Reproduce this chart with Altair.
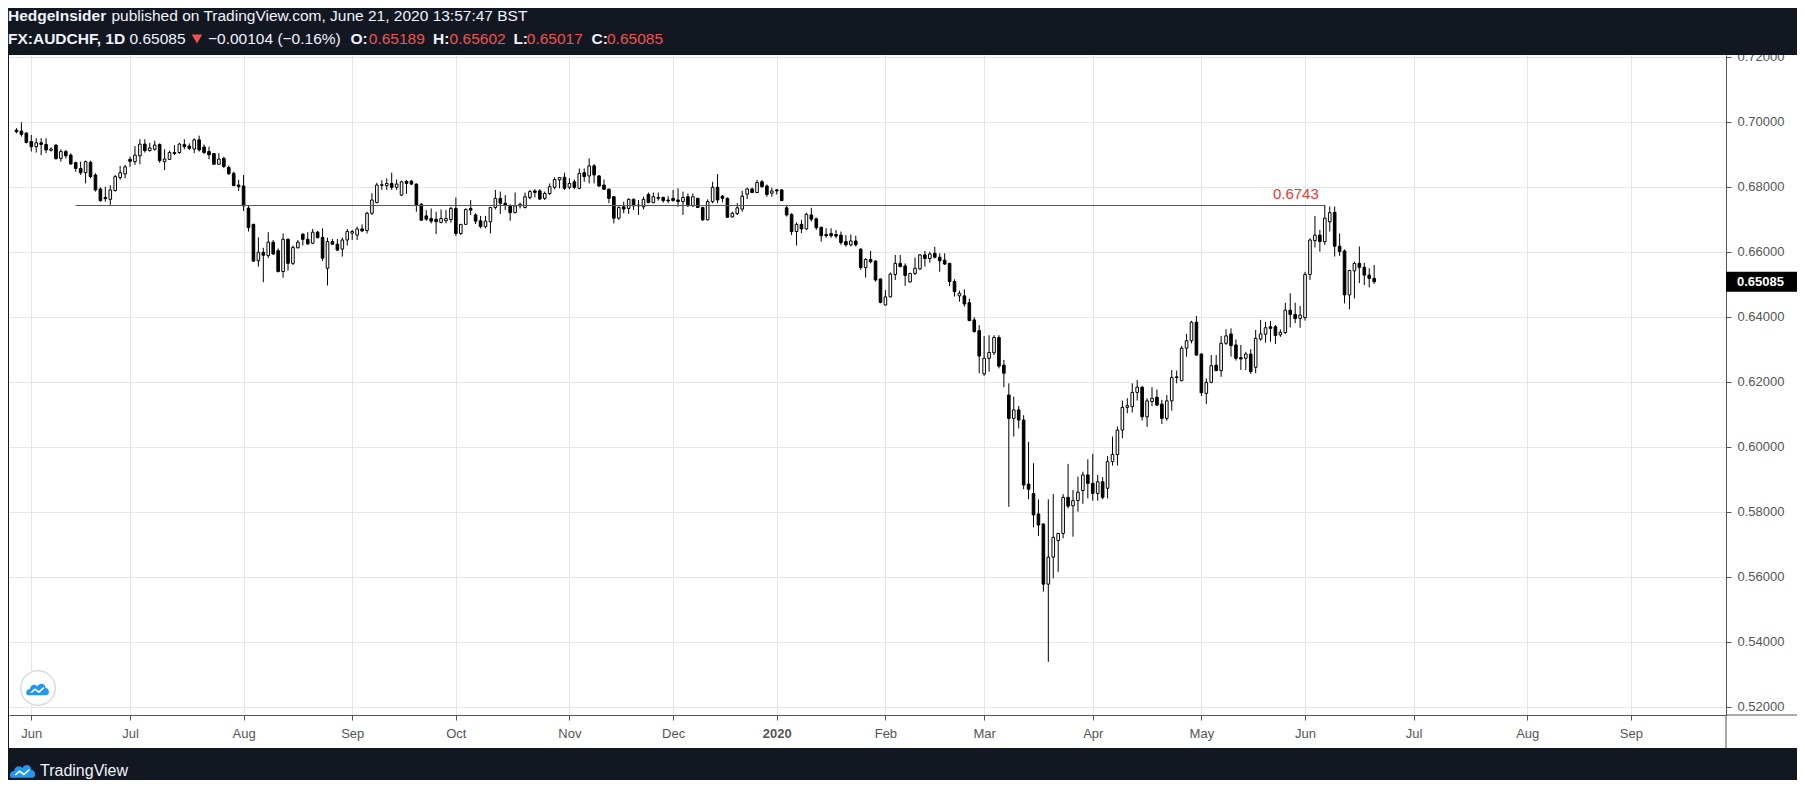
import altair as alt
import pandas as pd

# ---------------- data ----------------
opens = [
0.6975,0.6972,0.6966,0.6940,0.6924,0.6936,0.6931,0.6913,0.6929,0.6888,
0.6909,0.6898,0.6875,0.6857,0.6844,0.6876,0.6837,0.6794,0.6768,0.6762,
0.6789,0.6829,0.6840,0.6885,0.6878,0.6896,0.6932,0.6912,0.6916,0.6931,
0.6878,0.6885,0.6906,0.6906,0.6931,0.6926,0.6917,0.6945,0.6923,0.6909,
0.6903,0.6870,0.6888,0.6860,0.6842,0.6806,0.6803,0.6735,0.6685,0.6573,
0.6599,0.6589,0.6630,0.6604,0.6540,0.6639,0.6565,0.6613,0.6655,0.6639,
0.6627,0.6661,0.6645,0.6550,0.6632,0.6624,0.6609,0.6637,0.6658,0.6652,
0.6671,0.6666,0.6719,0.6752,0.6805,0.6804,0.6811,0.6799,0.6775,0.6817,
0.6818,0.6809,0.6747,0.6711,0.6703,0.6701,0.6691,0.6696,0.6700,0.6734,
0.6657,0.6685,0.6734,0.6714,0.6696,0.6678,0.6693,0.6737,0.6765,0.6750,
0.6743,0.6721,0.6742,0.6737,0.6768,0.6788,0.6788,0.6765,0.6780,0.6799,
0.6822,0.6830,0.6799,0.6816,0.6796,0.6844,0.6834,0.6865,0.6834,0.6806,
0.6793,0.6770,0.6704,0.6739,0.6734,0.6762,0.6744,0.6739,0.6777,0.6752,
0.6765,0.6768,0.6760,0.6765,0.6760,0.6755,0.6770,0.6742,0.6765,0.6737,
0.6699,0.6755,0.6799,0.6772,0.6765,0.6708,0.6718,0.6732,0.6778,0.6794,
0.6783,0.6816,0.6803,0.6781,0.6791,0.6791,0.6736,0.6716,0.6663,0.6685,
0.6671,0.6714,0.6702,0.6676,0.6654,0.6657,0.6654,0.6652,0.6632,0.6622,
0.6634,0.6609,0.6552,0.6577,0.6572,0.6517,0.6437,0.6462,0.6531,0.6565,
0.6557,0.6508,0.6534,0.6548,0.6591,0.6580,0.6596,0.6584,0.6575,0.6565,
0.6509,0.6465,0.6465,0.6444,0.6391,0.6358,0.6225,0.6273,0.6290,0.6337,
0.6252,0.6160,0.6088,0.6114,0.6083,0.5886,0.5857,0.5794,0.5763,0.5578,
0.5661,0.5712,0.5734,0.5845,0.5819,0.5835,0.5866,0.5914,0.5888,0.5857,
0.5893,0.5873,0.5955,0.5977,0.6052,0.6122,0.6124,0.6168,0.6184,0.6093,
0.6140,0.6153,0.6132,0.6088,0.6142,0.6214,0.6204,0.6304,0.6327,0.6384,
0.6286,0.6165,0.6199,0.6252,0.6235,0.6319,0.6348,0.6314,0.6275,0.6273,
0.6286,0.6245,0.6332,0.6347,0.6370,0.6370,0.6345,0.6352,0.6421,0.6408,
0.6396,0.6398,0.6531,0.6635,0.6652,0.6632,0.6693,0.6722,0.6618,0.6603,
0.6468,0.6542,0.6565,0.6553,0.6529,0.65189]

highs = [
0.6981,0.6999,0.6968,0.6960,0.6950,0.6950,0.6950,0.6922,0.6931,0.6916,
0.6914,0.6904,0.6878,0.6878,0.6881,0.6881,0.6842,0.6799,0.6801,0.6805,
0.6837,0.6865,0.6868,0.6893,0.6926,0.6947,0.6947,0.6936,0.6943,0.6934,
0.6916,0.6912,0.6929,0.6936,0.6947,0.6934,0.6950,0.6958,0.6931,0.6924,
0.6904,0.6904,0.6893,0.6866,0.6847,0.6822,0.6837,0.6742,0.6687,0.6645,
0.6613,0.6661,0.6637,0.6611,0.6657,0.6642,0.6620,0.6637,0.6657,0.6661,
0.6671,0.6665,0.6673,0.6644,0.6640,0.6640,0.6644,0.6671,0.6668,0.6678,
0.6685,0.6724,0.6781,0.6813,0.6821,0.6827,0.6844,0.6823,0.6819,0.6822,
0.6822,0.6811,0.6750,0.6729,0.6734,0.6724,0.6731,0.6729,0.6739,0.6768,
0.6686,0.6734,0.6760,0.6719,0.6711,0.6711,0.6739,0.6791,0.6786,0.6775,
0.6747,0.6783,0.6752,0.6783,0.6791,0.6793,0.6793,0.6786,0.6811,0.6830,
0.6830,0.6844,0.6827,0.6823,0.6857,0.6857,0.6888,0.6871,0.6837,0.6823,
0.6796,0.6772,0.6741,0.6755,0.6765,0.6765,0.6760,0.6770,0.6783,0.6783,
0.6783,0.6770,0.6772,0.6791,0.6796,0.6786,0.6780,0.6780,0.6767,0.6739,
0.6762,0.6816,0.6840,0.6775,0.6768,0.6724,0.6750,0.6788,0.6798,0.6798,
0.6822,0.6822,0.6808,0.6798,0.6794,0.6793,0.6745,0.6719,0.6691,0.6699,
0.6721,0.6736,0.6706,0.6678,0.6673,0.6673,0.6668,0.6663,0.6652,0.6654,
0.6650,0.6611,0.6581,0.6603,0.6575,0.6519,0.6483,0.6537,0.6591,0.6591,
0.6565,0.6536,0.6583,0.6594,0.6603,0.6601,0.6616,0.6596,0.6596,0.6567,
0.6516,0.6481,0.6485,0.6457,0.6399,0.6375,0.6341,0.6344,0.6344,0.6344,
0.6268,0.6196,0.6155,0.6126,0.6098,0.6016,0.5950,0.5839,0.5765,0.5839,
0.5855,0.5736,0.5855,0.5948,0.5868,0.5909,0.5924,0.5962,0.5979,0.5914,
0.5907,0.5972,0.6032,0.6063,0.6143,0.6150,0.6196,0.6206,0.6188,0.6150,
0.6184,0.6177,0.6145,0.6160,0.6237,0.6235,0.6311,0.6348,0.6388,0.6403,
0.6288,0.6211,0.6283,0.6283,0.6342,0.6362,0.6365,0.6331,0.6314,0.6293,
0.6301,0.6360,0.6391,0.6385,0.6388,0.6375,0.6362,0.6444,0.6473,0.6444,
0.6434,0.6539,0.6642,0.6711,0.6668,0.6745,0.6740,0.6740,0.6657,0.6608,
0.6545,0.6570,0.6617,0.6567,0.6550,0.65602]

lows = [
0.6965,0.6955,0.6934,0.6909,0.6906,0.6898,0.6904,0.6909,0.6885,0.6878,
0.6888,0.6868,0.6847,0.6837,0.6811,0.6827,0.6786,0.6755,0.6755,0.6745,
0.6786,0.6822,0.6827,0.6862,0.6868,0.6870,0.6906,0.6909,0.6912,0.6875,
0.6852,0.6883,0.6898,0.6902,0.6916,0.6914,0.6904,0.6909,0.6901,0.6885,
0.6868,0.6868,0.6858,0.6837,0.6803,0.6788,0.6726,0.6663,0.6570,0.6555,
0.6507,0.6581,0.6591,0.6537,0.6521,0.6543,0.6560,0.6611,0.6620,0.6622,
0.6624,0.6642,0.6572,0.6497,0.6622,0.6603,0.6586,0.6620,0.6637,0.6637,
0.6661,0.6657,0.6714,0.6750,0.6791,0.6791,0.6791,0.6791,0.6772,0.6779,
0.6806,0.6724,0.6696,0.6696,0.6688,0.6655,0.6688,0.6688,0.6690,0.6649,
0.6652,0.6683,0.6714,0.6686,0.6673,0.6673,0.6657,0.6731,0.6717,0.6729,
0.6696,0.6719,0.6734,0.6734,0.6762,0.6768,0.6760,0.6760,0.6775,0.6793,
0.6796,0.6791,0.6793,0.6793,0.6793,0.6816,0.6811,0.6811,0.6801,0.6791,
0.6750,0.6688,0.6699,0.6719,0.6717,0.6729,0.6714,0.6731,0.6750,0.6750,
0.6758,0.6752,0.6750,0.6755,0.6739,0.6714,0.6739,0.6739,0.6735,0.6696,
0.6697,0.6750,0.6750,0.6753,0.6706,0.6706,0.6714,0.6724,0.6763,0.6781,
0.6781,0.6798,0.6770,0.6770,0.6777,0.6757,0.6709,0.6652,0.6620,0.6658,
0.6668,0.6694,0.6668,0.6632,0.6644,0.6644,0.6642,0.6622,0.6617,0.6617,
0.6617,0.6545,0.6521,0.6565,0.6509,0.6442,0.6435,0.6460,0.6514,0.6553,
0.6496,0.6506,0.6529,0.6545,0.6555,0.6567,0.6580,0.6539,0.6560,0.6495,
0.6463,0.6447,0.6432,0.6387,0.6352,0.6227,0.6219,0.6232,0.6283,0.6242,
0.6184,0.5816,0.6032,0.6057,0.5870,0.5839,0.5753,0.5726,0.5555,0.5339,
0.5596,0.5616,0.5719,0.5811,0.5724,0.5801,0.5825,0.5842,0.5835,0.5835,
0.5839,0.5842,0.5943,0.5943,0.6027,0.6104,0.6106,0.6143,0.6081,0.6062,
0.6126,0.6126,0.6071,0.6081,0.6112,0.6196,0.6202,0.6278,0.6319,0.6280,
0.6157,0.6132,0.6196,0.6233,0.6216,0.6314,0.6278,0.6266,0.6237,0.6237,
0.6225,0.6227,0.6327,0.6321,0.6324,0.6317,0.6339,0.6348,0.6368,0.6381,
0.6367,0.6389,0.6514,0.6614,0.6601,0.6622,0.6663,0.6586,0.6588,0.6442,
0.6424,0.6457,0.6504,0.6498,0.6491,0.65017]

closes = [
0.6970,0.6962,0.6937,0.6924,0.6936,0.6931,0.6914,0.6917,0.6887,0.6909,
0.6896,0.6871,0.6857,0.6844,0.6878,0.6832,0.6791,0.6758,0.6764,0.6791,
0.6832,0.6844,0.6862,0.6879,0.6898,0.6932,0.6912,0.6920,0.6929,0.6881,
0.6886,0.6906,0.6903,0.6932,0.6924,0.6919,0.6945,0.6914,0.6906,0.6899,
0.6870,0.6886,0.6863,0.6841,0.6804,0.6801,0.6742,0.6675,0.6572,0.6599,
0.6590,0.6630,0.6594,0.6540,0.6639,0.6565,0.6614,0.6630,0.6639,0.6625,
0.6661,0.6644,0.6581,0.6632,0.6624,0.6606,0.6637,0.6663,0.6663,0.6671,
0.6665,0.6719,0.6760,0.6806,0.6807,0.6811,0.6799,0.6809,0.6816,0.6811,
0.6809,0.6745,0.6698,0.6701,0.6695,0.6693,0.6703,0.6703,0.6734,0.6657,
0.6685,0.6731,0.6729,0.6695,0.6678,0.6695,0.6737,0.6765,0.6750,0.6743,
0.6721,0.6742,0.6747,0.6770,0.6786,0.6783,0.6763,0.6780,0.6801,0.6823,
0.6829,0.6796,0.6811,0.6799,0.6842,0.6832,0.6865,0.6837,0.6803,0.6793,
0.6765,0.6704,0.6737,0.6732,0.6762,0.6742,0.6742,0.6762,0.6752,0.6770,
0.6768,0.6758,0.6757,0.6758,0.6755,0.6768,0.6742,0.6770,0.6737,0.6699,
0.6755,0.6799,0.6760,0.6765,0.6707,0.6719,0.6736,0.6772,0.6794,0.6783,
0.6814,0.6801,0.6777,0.6788,0.6788,0.6758,0.6714,0.6663,0.6685,0.6671,
0.6716,0.6701,0.6675,0.6650,0.6650,0.6650,0.6649,0.6629,0.6622,0.6634,
0.6622,0.6552,0.6577,0.6570,0.6514,0.6445,0.6462,0.6532,0.6565,0.6555,
0.6528,0.6534,0.6550,0.6591,0.6580,0.6594,0.6584,0.6573,0.6563,0.6509,
0.6478,0.6473,0.6440,0.6389,0.6355,0.6280,0.6273,0.6291,0.6337,0.6249,
0.6227,0.6088,0.6114,0.6083,0.5883,0.5870,0.5791,0.5760,0.5578,0.5661,
0.5722,0.5734,0.5845,0.5818,0.5835,0.5861,0.5914,0.5888,0.5857,0.5893,
0.5845,0.5955,0.5977,0.6052,0.6122,0.6127,0.6168,0.6184,0.6093,0.6142,
0.6150,0.6129,0.6088,0.6142,0.6214,0.6216,0.6304,0.6327,0.6384,0.6283,
0.6167,0.6199,0.6250,0.6235,0.6319,0.6342,0.6312,0.6273,0.6271,0.6286,
0.6232,0.6334,0.6348,0.6367,0.6365,0.6343,0.6353,0.6421,0.6408,0.6395,
0.6406,0.6531,0.6637,0.6652,0.6632,0.6704,0.6721,0.6618,0.6601,0.6468,
0.6543,0.6565,0.6553,0.6529,0.6519,0.65085]

first_day = "2019-05-29"
calendar_end = "2020-09-30"
holidays = ["2019-12-25", "2020-01-01"]
y_ticks = [0.52, 0.54, 0.56, 0.58, 0.60, 0.62, 0.64, 0.66, 0.68, 0.70, 0.72]
level_value = [0.6743]
level_start = ["2019-06-14"]
level_end = ["2020-06-05"]
last_price = [0.65085]

header_1_bold = "HedgeInsider"
header_1_rest = "published on TradingView.com, June 21, 2020 13:57:47 BST"
header_2 = [  # (text, kind)
    ("FX:AUDCHF, 1D", "bold"), ("0.65085", "plain"), ("\u22120.00104 (\u22120.16%)", "plain"),
    ("O:", "bold"), ("0.65189", "red"), ("H:", "bold"), ("0.65602", "red"),
    ("L:", "bold"), ("0.65017", "red"), ("C:", "bold"), ("0.65085", "red"),
]
brand = "TradingView"

# ---------------- styling ----------------
FONT = "Liberation Sans"
DARK = "#131722"
WHITE_TXT = "#f0f3fa"
RED = "#ef5350"
LINE_RED = "#c62828"
GRID = "#e6e6e6"
AXC = "#555555"
LAB = "#555555"
BLUE = "#2196f3"

X_DOMAIN = [-0.5, 345.25]
Y_DOMAIN = [0.517538, 0.720615]
W, H = 1717, 660

# ---------------- build tables ----------------
cal = pd.bdate_range(first_day, calendar_end)
cal = cal[~cal.isin(pd.to_datetime(holidays))]
pos = {d.strftime("%Y-%m-%d"): i for i, d in enumerate(cal)}

n = len(opens)
df = pd.DataFrame({
    "idx": list(range(n)),
    "date": [d.strftime("%Y-%m-%d") for d in cal[:n]],
    "open": opens, "high": highs, "low": lows, "close": closes,
})

cal_df = pd.DataFrame({"d": cal, "i": range(len(cal))})
firsts = cal_df.groupby(cal_df["d"].dt.to_period("M"))["i"].min()
tick_idx, tick_lab = [], []
for per, i in firsts.items():
    if i == 0 or i > X_DOMAIN[1]:
        continue
    tick_idx.append(int(i))
    tick_lab.append(str(per.year) if per.month == 1 else per.strftime("%b"))
jan_idx = tick_idx[tick_lab.index("2020")]

lvl = pd.DataFrame({"x0": [pos[level_start[0]]], "x1": [pos[level_end[0]]], "v": level_value})
lp = pd.DataFrame({"p": last_price})
one = pd.DataFrame({"k": [0]})

xs = alt.Scale(domain=X_DOMAIN, nice=False, zero=False)
ys = alt.Scale(domain=Y_DOMAIN, nice=False, zero=False)

xaxis = alt.Axis(
    values=tick_idx, labelExpr=f"{tick_lab}[indexof({tick_idx}, datum.value)]",
    title=None, grid=True, gridColor=GRID, domainColor=AXC, tickColor=AXC, tickSize=5,
    labelColor=LAB, labelFont=FONT, labelFontSize=13, labelPadding=7,
    labelFlush=False, labelOverlap=False,
    labelFontWeight=alt.condition(f"datum.value == {jan_idx}", alt.value("bold"), alt.value("normal")),
)
yaxis = alt.Axis(
    orient="right", values=y_ticks, format=".5f", title=None, grid=True, gridColor=GRID,
    domainColor=AXC, tickColor=AXC, tickSize=5, labelColor=LAB, labelFont=FONT,
    labelFontSize=13, labelPadding=6, labelFlush=False, labelOverlap=False,
    labelAlign="left", labelBaseline="middle",
)

base = alt.Chart(df)
wicks = base.mark_rule(color="black", strokeWidth=1).encode(
    x=alt.X("idx:Q", scale=xs, axis=xaxis),
    y=alt.Y("low:Q", scale=ys, axis=yaxis),
    y2="high:Q",
)
bodies = base.mark_bar(size=2.6, stroke="black", strokeWidth=1).encode(
    x=alt.X("idx:Q", scale=xs, axis=xaxis),
    y=alt.Y("open:Q", scale=ys, axis=yaxis),
    y2="close:Q",
    fill=alt.condition("datum.close < datum.open", alt.value("black"), alt.value("white")),
)
level_rule = alt.Chart(lvl).mark_rule(color=LINE_RED, strokeWidth=1).encode(
    x=alt.X("x0:Q", scale=xs, axis=xaxis), x2="x1:Q",
    y=alt.Y("v:Q", scale=ys, axis=yaxis),
)
level_text = alt.Chart(lvl).mark_text(
    align="right", baseline="bottom", dx=-6, dy=-4, fontSize=15, font=FONT, color="#e53935"
).encode(
    x=alt.X("x1:Q", scale=xs, axis=xaxis),
    y=alt.Y("v:Q", scale=ys, axis=yaxis),
    text=alt.Text("v:Q", format=".4f"),
)

price_box = alt.Chart(lp).mark_rect(color="black", yOffset=-10, y2Offset=10).encode(
    x=alt.value(W), x2=alt.value(1788),
    y=alt.Y("p:Q", scale=ys, axis=yaxis), y2="p:Q",
)
price_txt = alt.Chart(lp).mark_text(
    align="left", baseline="middle", color="white", fontWeight="bold", fontSize=13, font=FONT
).encode(x=alt.value(W + 11), y=alt.Y("p:Q", scale=ys, axis=yaxis), text=alt.Text("p:Q", format=".5f"))


def deco_rect(x, x2, y, y2, color):
    return alt.Chart(one).mark_rect(color=color).encode(
        x=alt.value(x), x2=alt.value(x2), y=alt.value(y), y2=alt.value(y2))


def deco_rule(x, x2, y, y2, color):
    return alt.Chart(one).mark_rule(color=color, strokeWidth=1).encode(
        x=alt.value(x), x2=alt.value(x2), y=alt.value(y), y2=alt.value(y2))


def txt(t, x, y, color, weight="normal", size=15.5, align="left"):
    return alt.Chart(one).mark_text(
        text=t, align=align, baseline="middle", fontSize=size, font=FONT,
        fontWeight=weight, color=color,
    ).encode(x=alt.value(x), y=alt.value(y))


CLOUD = ("M-0.9,0.55 C-1.15,0.5 -1.1,0.02 -0.72,0.0 C-0.68,-0.38 -0.25,-0.5 -0.05,-0.22 "
         "C0.1,-0.6 0.65,-0.55 0.68,-0.08 C1.05,-0.08 1.08,0.55 0.75,0.55 Z")
WAVE = "M-0.62,0.32 L-0.28,0.02 L0.08,0.28 L0.52,-0.12"


def logo(x, y, s):
    c = alt.Chart(one).mark_point(shape=CLOUD, filled=True, color=BLUE, size=s, opacity=1).encode(
        x=alt.value(x), y=alt.value(y))
    w = alt.Chart(one).mark_point(shape=WAVE, filled=False, stroke="white", strokeWidth=1.6,
                                  size=s, opacity=1).encode(x=alt.value(x), y=alt.value(y))
    return [c, w]


badge = alt.Chart(one).mark_point(shape="circle", filled=True, fill="white", stroke="#d9dce3",
                                  strokeWidth=1.5, size=1190, opacity=1).encode(
    x=alt.value(29), y=alt.value(633))

layers = [wicks, bodies, level_rule, level_text, badge] + logo(29, 634, 500) + [
    price_box, price_txt,
    deco_rule(W, 1788, H, H, AXC),
    deco_rule(W, W, H, 693, AXC),
    deco_rect(-10, 1800, -60, 0, DARK),
    deco_rect(-10, 0, -60, 800, DARK),
    deco_rect(-10, 1800, 693, 800, DARK),
]

# header
layers.append(txt(header_1_bold, -1, -39, WHITE_TXT, "bold"))
layers.append(txt(header_1_rest, 102.5, -39, WHITE_TXT))
h2_x = [-1, 120.5, 199, 341.4, 359.8, 424, 440.6, 504.4, 517.8, 582.5, 598]
for (t, kind), x in zip(header_2, h2_x):
    color = RED if kind == "red" else WHITE_TXT
    layers.append(txt(t, x, -16, color, "bold" if kind == "bold" else "normal"))
layers.append(alt.Chart(one).mark_point(shape="triangle-down", filled=True, color=RED,
                                        size=110, opacity=1).encode(x=alt.value(188), y=alt.value(-16)))
# footer brand
layers += logo(14, 716, 620)
layers.append(txt(brand, 31, 716, WHITE_TXT, size=16))

chart = alt.layer(*layers).properties(
    width=W, height=H,
    padding={"left": 1, "top": 47, "right": 71, "bottom": 65},
    autosize=alt.AutoSizeParams(type="none"),
    background="white",
).configure_view(strokeWidth=0)

chart.save("out.html", embed_options={"renderer": "svg", "actions": False})
